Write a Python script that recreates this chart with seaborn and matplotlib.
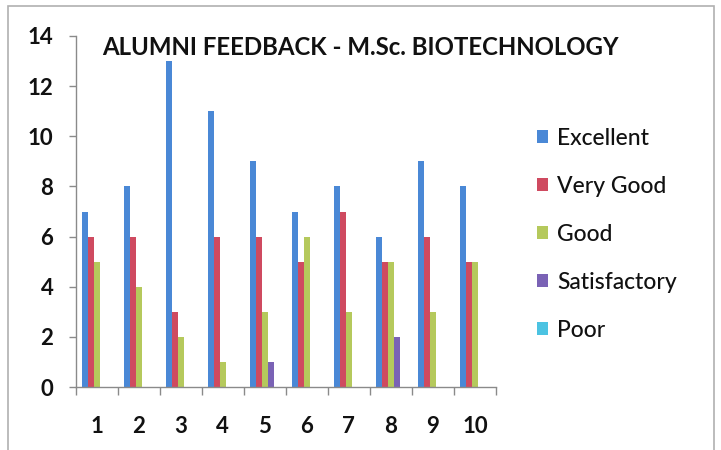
import numpy as np
import pandas as pd
import matplotlib
matplotlib.use("Agg")
import matplotlib.pyplot as plt
import seaborn as sns
from matplotlib.ticker import FixedLocator

# Feedback counts per respondent group
responses = ["1", "2", "3", "4", "5", "6", "7", "8", "9", "10"]
excellent = [7, 8, 13, 11, 9, 7, 8, 6, 9, 8]
very_good = [6, 6, 3, 6, 6, 5, 7, 5, 6, 5]
good = [5, 4, 2, 1, 3, 6, 3, 5, 3, 5]
satisfactory = [0, 0, 0, 0, 1, 0, 0, 2, 0, 0]
poor = [0, 0, 0, 0, 0, 0, 0, 0, 0, 0]

ratings = ["Excellent", "Very Good", "Good", "Satisfactory", "Poor"]
colors = ["#4a88d6", "#cf4a60", "#b5c95c", "#7a62b5", "#4cc3e2"]

series = [excellent, very_good, good, satisfactory, poor]
df = pd.DataFrame({
    "response": np.repeat([responses], len(ratings), axis=0).ravel(),
    "rating": np.repeat(ratings, len(responses)),
    "count": np.concatenate(series),
})

sns.set_theme(style="white")
plt.rcParams["font.family"] = ["Lato", "DejaVu Sans"]

fig = plt.figure(figsize=(7.21, 4.5), dpi=100)
ax = fig.add_axes([0.105, 0.14, 0.583, 0.78])

sns.barplot(data=df, x="response", y="count", hue="rating",
            order=responses, hue_order=ratings, palette=colors,
            width=0.72, saturation=1, linewidth=0, ax=ax, legend=True)

ax.set_ylim(0, 14)
ax.set_yticks(range(0, 15, 2))
ax.set_xlim(-0.5, len(responses) - 0.5)
ax.set_xlabel("")
ax.set_ylabel("")

for side in ["top", "right"]:
    ax.spines[side].set_visible(False)
for side in ["left", "bottom"]:
    ax.spines[side].set_color("#8a8a8a")
    ax.spines[side].set_linewidth(1.0)

ax.tick_params(axis="y", which="major", left=True, length=5, width=1,
               color="#8a8a8a", labelsize=16, pad=11)
ax.tick_params(axis="x", which="major", bottom=False, labelsize=16, pad=15)
ax.xaxis.set_minor_locator(FixedLocator(np.arange(-0.5, len(responses), 1.0)))
ax.tick_params(axis="x", which="minor", bottom=True, length=6, width=1,
               color="#8a8a8a")
for lbl in ax.get_xticklabels() + ax.get_yticklabels():
    lbl.set_fontweight("bold")
    lbl.set_color("#111111")

leg = ax.legend(loc="upper left", bbox_to_anchor=(1.075, 0.765), frameon=False,
                fontsize=16.5, handlelength=0.5, handleheight=0.5,
                handletextpad=0.4, labelspacing=1.18, borderaxespad=0)
for t in leg.get_texts():
    t.set_color("#111111")
    t.set_fontweight("medium")

fig.text(0.141, 0.895, "ALUMNI FEEDBACK - M.Sc. BIOTECHNOLOGY",
         fontsize=17.3, fontweight="bold", color="#111111", ha="left", va="center")

# Chart frame
fig.patches.append(plt.Rectangle((0.011, -0.01), 0.979, 0.997,
                                 transform=fig.transFigure, fill=False,
                                 edgecolor="#b0b0b0", linewidth=1.2))

fig.savefig("out.png", dpi=100, facecolor="white")
